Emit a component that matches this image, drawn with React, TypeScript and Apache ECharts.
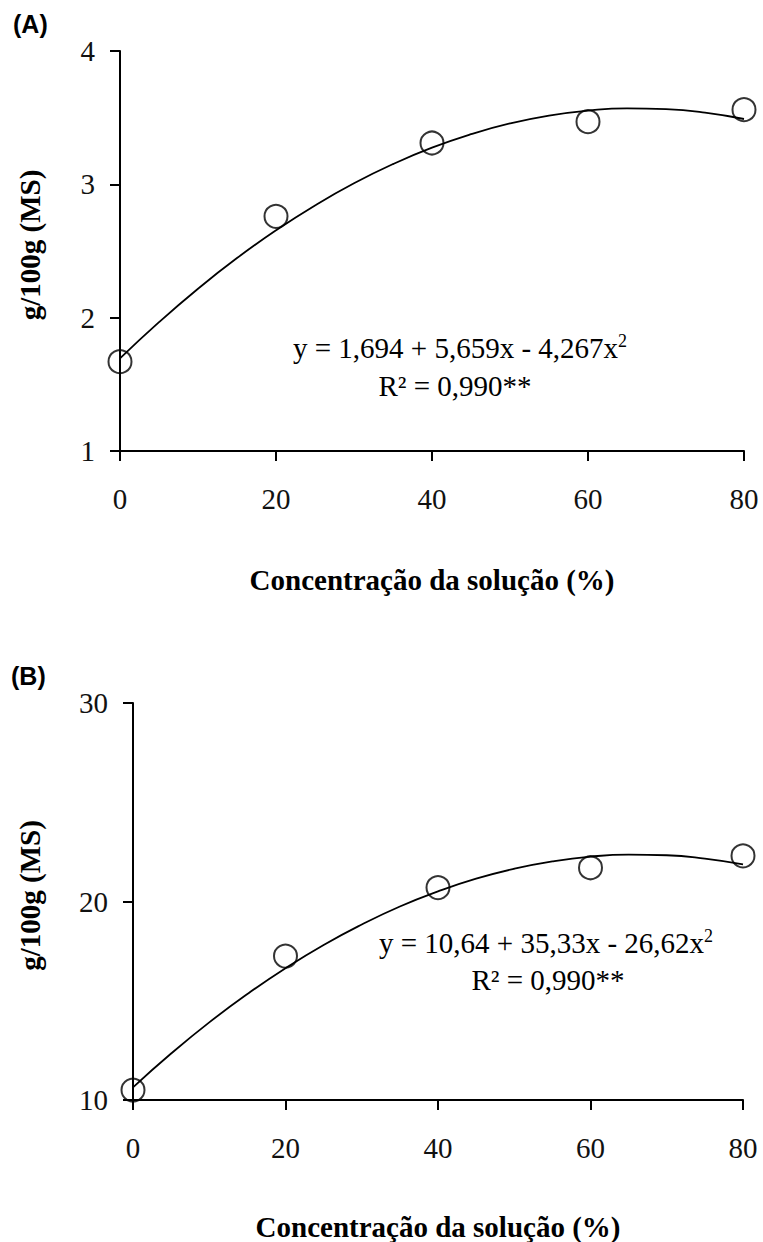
import React, { useEffect, useRef } from "react";
import * as echarts from "echarts";

// Observed points (x = concentration %, y = g/100g MS)
const concentrations = [0, 20, 40, 60, 80];
const valuesA = [1.67, 2.76, 3.31, 3.47, 3.56];
const valuesB = [10.5, 17.25, 20.7, 21.7, 22.3];

// Fitted curve
const curveX = [0, 5, 10, 15, 20, 25, 30, 35, 40, 45, 50, 55, 60, 65, 70, 75, 80];
const curveA = [1.694, 1.966, 2.217, 2.447, 2.655, 2.842, 3.008, 3.152, 3.275, 3.376, 3.457, 3.516, 3.553, 3.57, 3.564, 3.538, 3.49];
const curveB = [10.64, 12.34, 13.91, 15.34, 16.64, 17.81, 18.84, 19.75, 20.51, 21.15, 21.65, 22.02, 22.26, 22.36, 22.33, 22.16, 21.87];

const xTicks = [0, 20, 40, 60, 80];
const yTicksA = [1, 2, 3, 4];
const yTicksB = [10, 20, 30];

const SERIF = "'Liberation Serif', 'Times New Roman', serif";
const SANS = "'Liberation Sans', Arial, sans-serif";

function pairs(xs: number[], ys: number[]) {
  return xs.map((x, i) => [x, ys[i]]);
}

export default function App() {
  const ref = useRef<HTMLDivElement>(null);
  useEffect(() => {
    if (!ref.current) return;
    const chart = echarts.init(ref.current, null, { renderer: "svg" });
    const axisLine = { show: true, lineStyle: { color: "#000", width: 2 } };
    const axisTick = { show: true, inside: false, length: 10, lineStyle: { color: "#000", width: 2 } };
    const labelStyle = { color: "#111", fontFamily: SERIF, fontSize: 29 };
    const nameStyle = { color: "#000", fontFamily: SERIF, fontSize: 29, fontWeight: "bold" as const };

    const xAxisCommon = (gridIndex: number, gap: number) => ({
      type: "value" as const,
      gridIndex,
      min: xTicks[0],
      max: xTicks[xTicks.length - 1],
      interval: 20,
      name: "Concentração da solução (%)",
      nameLocation: "middle" as const,
      nameGap: gap,
      nameTextStyle: nameStyle,
      axisLine,
      axisTick,
      axisLabel: { ...labelStyle, margin: 33 },
      splitLine: { show: false },
    });
    const yAxisCommon = (gridIndex: number, ticks: number[], interval: number, gap: number) => ({
      type: "value" as const,
      gridIndex,
      min: ticks[0],
      max: ticks[ticks.length - 1],
      interval,
      name: "g/100g (MS)",
      nameLocation: "middle" as const,
      nameGap: gap,
      nameRotate: 90,
      nameTextStyle: { ...nameStyle, padding: [0, 0, 0, 12] },
      axisLine,
      axisTick,
      axisLabel: { ...labelStyle, margin: 25 },
      splitLine: { show: false },
    });

    const scatterStyle = {
      type: "scatter" as const,
      symbol: "circle",
      symbolSize: 23,
      itemStyle: { color: "rgba(255,255,255,0)", borderColor: "#000", borderWidth: 2 },
      z: 3,
    };
    const lineStyle = {
      type: "line" as const,
      smooth: true,
      showSymbol: false,
      symbol: "none",
      lineStyle: { color: "#000", width: 1.8 },
      z: 2,
    };

    const supRich = {
      sup: { fontSize: 18, fontFamily: SERIF, fill: "#000", padding: [0, 0, 14, 0] },
    };

    chart.setOption({
      animation: false,
      backgroundColor: "#fff",
      grid: [
        { left: 120, width: 624, top: 51, height: 400 },
        { left: 133, width: 610, top: 703, height: 400 },
      ],
      xAxis: [xAxisCommon(0, 114), xAxisCommon(1, 112)],
      yAxis: [yAxisCommon(0, yTicksA, 1, 76), yAxisCommon(1, yTicksB, 10, 89)],
      series: [
        { ...lineStyle, xAxisIndex: 0, yAxisIndex: 0, data: pairs(curveX, curveA) },
        { ...scatterStyle, xAxisIndex: 0, yAxisIndex: 0, data: pairs(concentrations, valuesA) },
        { ...lineStyle, xAxisIndex: 1, yAxisIndex: 1, data: pairs(curveX, curveB) },
        { ...scatterStyle, xAxisIndex: 1, yAxisIndex: 1, data: pairs(concentrations, valuesB) },
      ],
      graphic: [
        {
          type: "text",
          left: 13,
          top: 11,
          style: { text: "(A)", font: `bold 25px ${SANS}`, fill: "#000" },
        },
        {
          type: "text",
          left: 11,
          top: 663,
          style: { text: "(B)", font: `bold 25px ${SANS}`, fill: "#000" },
        },
        {
          type: "text",
          x: 460,
          y: 348,
          style: {
            text: "y = 1,694 + 5,659x - 4,267x{sup|2}",
            font: `29px ${SERIF}`,
            fill: "#000",
            align: "center",
            verticalAlign: "middle",
            rich: supRich,
          },
        },
        {
          type: "text",
          x: 455,
          y: 386,
          style: { text: "R² = 0,990**", font: `29px ${SERIF}`, fill: "#000", align: "center", verticalAlign: "middle" },
        },
        {
          type: "text",
          x: 546,
          y: 943,
          style: {
            text: "y = 10,64 + 35,33x - 26,62x{sup|2}",
            font: `29px ${SERIF}`,
            fill: "#000",
            align: "center",
            verticalAlign: "middle",
            rich: supRich,
          },
        },
        {
          type: "text",
          x: 548,
          y: 980,
          style: { text: "R² = 0,990**", font: `29px ${SERIF}`, fill: "#000", align: "center", verticalAlign: "middle" },
        },
      ],
    });
    return () => chart.dispose();
  }, []);
  return (
    <div
      ref={ref}
      style={{ position: "fixed", left: 0, top: 0, width: 763, height: 1242, background: "#fff" }}
    />
  );
}
